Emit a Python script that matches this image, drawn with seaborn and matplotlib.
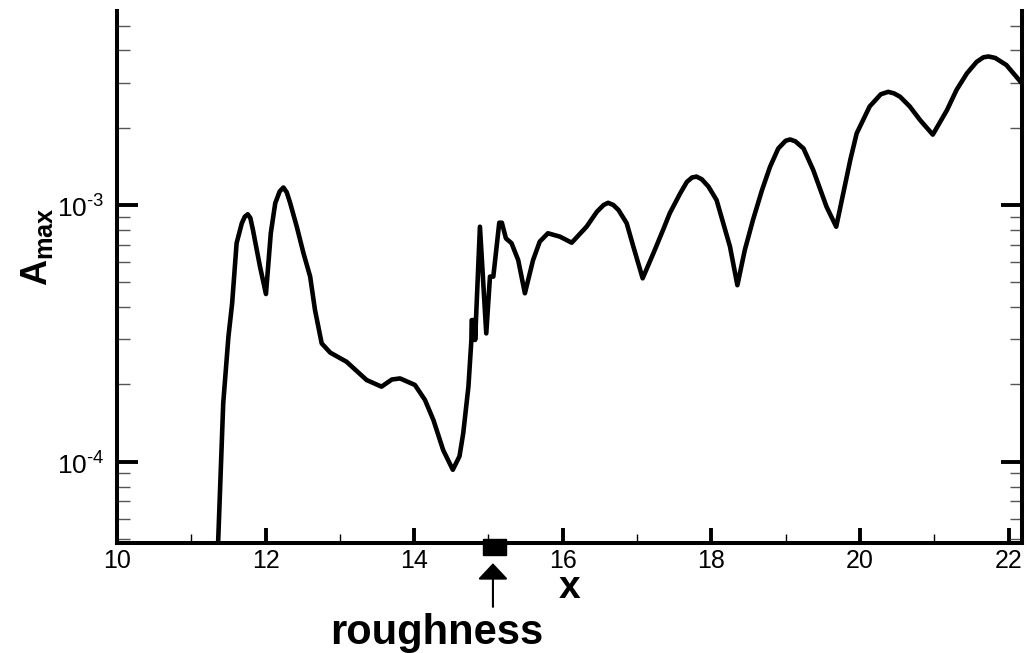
import numpy as np
import pandas as pd
import matplotlib
matplotlib.use('Agg')
import matplotlib.pyplot as plt
import matplotlib.ticker as mticker
import matplotlib.transforms as mtransforms
from matplotlib.patches import Rectangle
import seaborn as sns

# ================================================================
# Data
# ================================================================
x_vals = [11.335, 11.43, 11.50, 11.55, 11.61, 11.68, 11.72, 11.76, 11.795, 11.83,
          11.86, 11.925, 12.005, 12.07, 12.13, 12.19, 12.24, 12.285, 12.33, 12.42,
          12.51, 12.60, 12.665, 12.755, 12.87, 13.09, 13.36, 13.56, 13.70, 13.81,
          14.01, 14.145, 14.26, 14.39, 14.52, 14.61, 14.66, 14.73, 14.77, 14.774,
          14.818, 14.82, 14.885, 14.97, 15.02, 15.065, 15.145, 15.18, 15.235, 15.31,
          15.40, 15.49, 15.60, 15.69, 15.80, 15.96, 16.12, 16.32, 16.46, 16.55,
          16.61, 16.68, 16.75, 16.86, 16.95, 17.075, 17.22, 17.35, 17.44, 17.58,
          17.67, 17.74, 17.80, 17.87, 17.96, 18.07, 18.25, 18.35, 18.45, 18.56,
          18.68, 18.79, 18.90, 19.00, 19.06, 19.13, 19.24, 19.37, 19.55, 19.68,
          19.87, 19.955, 20.13, 20.28, 20.38, 20.46, 20.54, 20.67, 20.81, 20.98,
          21.17, 21.30, 21.44, 21.57, 21.66, 21.73, 21.82, 21.97, 22.20]
a_max = [3.0e-5, 1.69e-4, 3.07e-4, 4.14e-4, 7.1e-4, 8.49e-4, 9.0e-4, 9.2e-4, 8.9e-4, 8.0e-4,
         7.2e-4, 5.75e-4, 4.5e-4, 7.76e-4, 1.016e-3, 1.13e-3, 1.17e-3, 1.12e-3, 1.02e-3, 8.23e-4,
         6.49e-4, 5.26e-4, 3.9e-4, 2.89e-4, 2.66e-4, 2.45e-4, 2.08e-4, 1.96e-4, 2.09e-4, 2.11e-4,
         1.99e-4, 1.74e-4, 1.45e-4, 1.11e-4, 9.3e-5, 1.05e-4, 1.29e-4, 1.96e-4, 2.98e-4, 3.56e-4,
         3.56e-4, 2.98e-4, 8.23e-4, 3.16e-4, 5.26e-4, 5.26e-4, 8.53e-4, 8.53e-4, 7.41e-4, 7.1e-4,
         6.1e-4, 4.53e-4, 6.1e-4, 7.2e-4, 7.76e-4, 7.53e-4, 7.13e-4, 8.23e-4, 9.42e-4, 1.0e-3,
         1.02e-3, 1.0e-3, 9.56e-4, 8.49e-4, 6.88e-4, 5.18e-4, 6.49e-4, 8.0e-4, 9.29e-4, 1.11e-3,
         1.23e-3, 1.28e-3, 1.29e-3, 1.26e-3, 1.18e-3, 1.045e-3, 6.89e-4, 4.87e-4, 6.68e-4, 8.75e-4,
         1.14e-3, 1.41e-3, 1.66e-3, 1.78e-3, 1.80e-3, 1.77e-3, 1.66e-3, 1.37e-3, 9.84e-4, 8.23e-4,
         1.50e-3, 1.90e-3, 2.42e-3, 2.70e-3, 2.76e-3, 2.72e-3, 2.64e-3, 2.42e-3, 2.14e-3, 1.88e-3,
         2.34e-3, 2.81e-3, 3.26e-3, 3.61e-3, 3.76e-3, 3.79e-3, 3.74e-3, 3.51e-3, 2.93e-3]

x_ticks = [10, 12, 14, 16, 18, 20, 22]
rough_x = [14.92, 15.24]     # roughness element extent
arrow_x = 15.06

df = pd.DataFrame({'x': x_vals, 'A': a_max})

# ================================================================
# Style
# ================================================================
sns.set_style('ticks')
plt.rcParams['font.family'] = ['Liberation Sans', 'DejaVu Sans']
plt.rcParams['mathtext.fontset'] = 'custom'
plt.rcParams['mathtext.rm'] = 'Liberation Sans'
plt.rcParams['mathtext.bf'] = 'Liberation Sans:bold'
for key in ['text.color', 'axes.labelcolor', 'xtick.color', 'ytick.color', 'axes.edgecolor']:
    plt.rcParams[key] = 'black'

fig = plt.figure(figsize=(10.27, 6.53), dpi=100)
ax = fig.add_axes([0.1139, 0.1677, 0.8812, 0.8155])

sns.lineplot(data=df, x='x', y='A', sort=False, estimator=None,
             color='black', lw=3.3, ax=ax)

ax.set_yscale('log')
ax.set_xlim(10, 22.18)
ax.set_ylim(4.8e-5, 5.7e-3)
ax.set_xlabel('')
ax.set_ylabel('')

ax.set_xticks(x_ticks)
ax.xaxis.set_minor_locator(mticker.MultipleLocator(1))
ax.yaxis.set_major_locator(mticker.LogLocator(base=10, numticks=10))
ax.yaxis.set_minor_locator(mticker.LogLocator(base=10, subs=np.arange(2, 10), numticks=20))


def pow_label(v, pos):
    e = int(round(np.log10(v)))
    return r'$10^{\text{%d}}$' % e


ax.yaxis.set_major_formatter(mticker.FuncFormatter(pow_label))
ax.yaxis.set_minor_formatter(mticker.NullFormatter())

for side in ['left', 'right', 'bottom']:
    ax.spines[side].set_linewidth(2.9)
ax.spines['top'].set_visible(False)

ax.tick_params(axis='x', which='major', direction='in', length=11, width=2.8,
               labelsize=18, pad=4, top=False)
ax.tick_params(axis='x', which='minor', direction='in', length=6.5, width=1.0, top=False)
ax.tick_params(axis='y', which='major', direction='in', length=15, width=2.8,
               labelsize=19, pad=9, right=True)
ax.tick_params(axis='y', which='minor', direction='in', length=9, width=1.0,
               color='#555555', right=True)

# labels
fig.text(0.555, 0.100, 'x', fontsize=28, fontweight='bold', ha='center', va='center')
fig.text(0.036, 0.622, r'$\mathbf{A}_{\mathbf{max}}$', fontsize=26, rotation=90,
         ha='center', va='center')

# roughness marker
trans = mtransforms.blended_transform_factory(ax.transData, ax.transAxes)
ax.add_patch(Rectangle((rough_x[0], -0.0216), rough_x[1] - rough_x[0], 0.0295,
                       transform=trans, color='black', clip_on=False, zorder=5))
ax.annotate('', xy=(arrow_x, -0.037), xytext=(arrow_x, -0.119),
            xycoords=trans, textcoords=trans,
            arrowprops=dict(arrowstyle='-|>,head_length=0.5,head_width=0.47',
                            mutation_scale=20, color='black', lw=1.5,
                            shrinkA=0, shrinkB=0),
            annotation_clip=False)
fig.text(0.4255, 0.030, 'roughness', fontsize=30, fontweight='bold',
         ha='center', va='center')

fig.savefig('out.png', dpi=100)
plt.close(fig)
